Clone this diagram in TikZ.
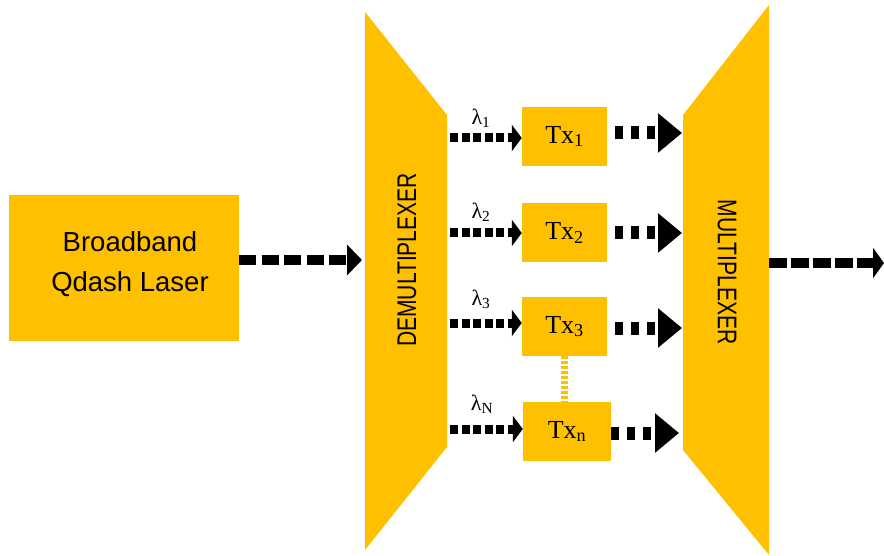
\documentclass[tikz,border=0pt]{standalone}
\usepackage{fontspec}
\setmainfont{Liberation Sans}
\newfontfamily\seriffont{Liberation Serif}
\usetikzlibrary{arrows.meta}
\definecolor{gold}{HTML}{FFC000}

\tikzset{
  block/.style={fill=gold, draw=none, inner sep=0pt},
  txbox/.style={block, minimum width=85pt, minimum height=59pt,
    font=\seriffont\fontsize{26}{28}\selectfont},
  lam/.style={font=\seriffont\fontsize{22}{24}\selectfont, inner sep=0pt},
  muxlabel/.style={font=\fontsize{27}{29}\selectfont, inner sep=0pt},
  feed/.style={line width=10pt, dash pattern=on 17pt off 5.5pt,
    -{Triangle[length=15pt,width=30pt]}},
  muxfeed/.style={line width=10pt, dash pattern=on 18pt off 4pt,
    -{Triangle[length=11pt,width=30pt]}},
  chan/.style={line width=9pt, dash pattern=on 8pt off 3.5pt,
    -{Triangle[length=10pt,width=26pt]}},
  txout/.style={line width=13pt, dash pattern=on 8pt off 8pt,
    -{Triangle[length=24pt,width=38pt]}},
}

\begin{document}
\begin{tikzpicture}[x=1pt,y=-1pt]
\useasboundingbox (0,0) rectangle (884,556);

% source
\node[block, minimum width=230pt, minimum height=146pt] (laser) at (124,268) {};
\node[font=\fontsize{27.5}{40}\selectfont, align=center, inner sep=0pt]
      (lasertext) at (130,264) {Broadband\\Qdash Laser};

% demultiplexer and multiplexer bodies
\fill[gold] (365,12) -- (447,115) -- (447,447) -- (365,550) -- cycle;
\fill[gold] (683,115) -- (769,5) -- (769,555) -- (683,450) -- cycle;
\node[muxlabel, rotate=90] (demuxlabel) at (407,260)
      {\scalebox{0.78}[1]{DEMULTIPLEXER}};
\node[muxlabel, rotate=-90] (muxlabelnode) at (727,272)
      {\scalebox{0.78}[1]{MULTIPLEXER}};

% transmitters
\node[txbox] (tx1) at (564.5,136.5) {Tx\textsubscript{1}};
\node[txbox] (tx2) at (564.5,233) {Tx\textsubscript{2}};
\node[txbox] (tx3) at (564.5,326.5) {Tx\textsubscript{3}};
\node[txbox, minimum width=88pt] (txn) at (567,431.5) {Tx\textsubscript{n}};

% wavelength labels
\node[lam] (l1) at (481,118) {λ\textsubscript{1}};
\node[lam] (l2) at (481,212) {λ\textsubscript{2}};
\node[lam] (l3) at (481,299) {λ\textsubscript{3}};
\node[lam] (lN) at (482,404) {λ\textsubscript{N}};

% anchor points on the (de)multiplexer edges
\coordinate (dmxin) at (362,260);
\coordinate (d1) at (450,138);
\coordinate (d2) at (450,233);
\coordinate (d3) at (450,323);
\coordinate (dN) at (450,429);
\coordinate (m1) at (682,133);
\coordinate (m2) at (682,233);
\coordinate (m3) at (682,328);
\coordinate (mN) at (679,433);
\coordinate (muxout) at (769,263);
\coordinate (outend) at (884,263);

% connectors
\draw[feed] (laser.east |- dmxin) -- (dmxin);
\draw[chan] (d1) -- (tx1.west |- d1);
\draw[chan] (d2) -- (tx2.west |- d2);
\draw[chan] (d3) -- (tx3.west |- d3);
\draw[chan] (dN) -- (txn.west |- dN);
\draw[txout, dash phase=8pt] (tx1.east |- m1) -- (m1);
\draw[txout, dash phase=8pt] (tx2.east |- m2) -- (m2);
\draw[txout, dash phase=8pt] (tx3.east |- m3) -- (m3);
\draw[txout] (txn.east |- mN) -- (mN);
\draw[muxfeed] (muxout) -- (outend);

% ellipsis between the third and the last transmitter
\draw[gold, line width=7pt, dash pattern=on 3pt off 2pt]
  (tx3.south) -- (tx3.south |- txn.north);
\end{tikzpicture}
\end{document}
